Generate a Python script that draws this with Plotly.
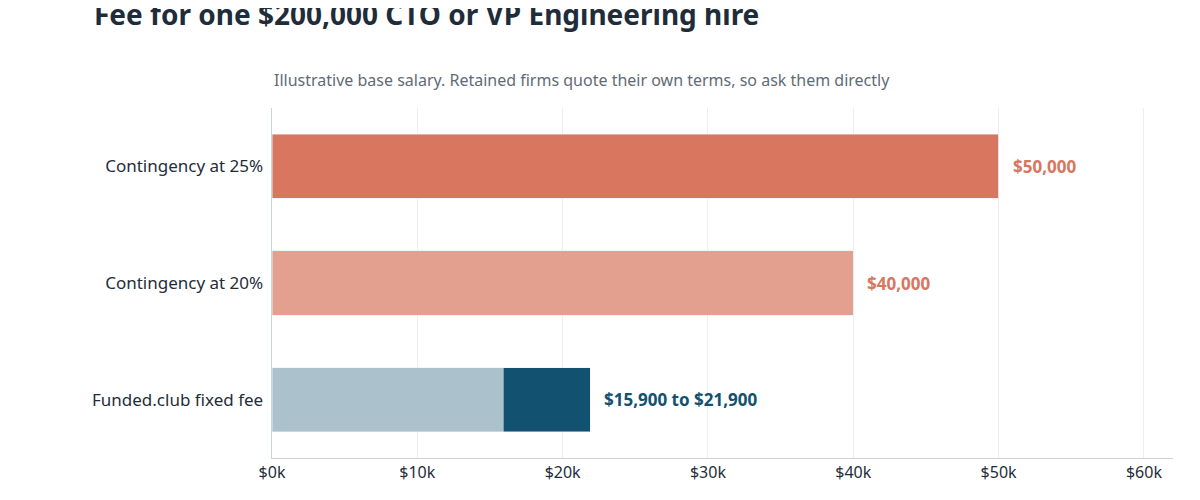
import plotly.graph_objects as go

categories = ["Funded.club fixed fee", "Contingency at 20%", "Contingency at 25%"]
base_values = [15900, 40000, 50000]
extra_values = [6000, 0, 0]
labels = ["$15,900 to $21,900", "$40,000", "$50,000"]
base_colors = ["#abc2cc", "#e3a08f", "#d9765f"]
label_colors = ["#12516f", "#d9765f", "#d9765f"]
tick_vals = [0, 10000, 20000, 30000, 40000, 50000, 60000]
tick_text = ["$0k", "$10k", "$20k", "$30k", "$40k", "$50k", "$60k"]

fig = go.Figure()
fig.add_bar(y=categories, x=base_values, orientation="h", marker_color=base_colors, width=0.55, hoverinfo="skip")
fig.add_bar(y=categories, x=extra_values, orientation="h", marker_color="#12516f", width=0.55, hoverinfo="skip")

for c, b, e, t, col in zip(categories, base_values, extra_values, labels, label_colors):
    fig.add_annotation(x=b + e, y=c, text="<b>" + t + "</b>", showarrow=False, xanchor="left", xshift=12,
                       font=dict(size=17, color=col))

fig.add_annotation(xref="paper", yref="paper", x=-0.2, y=1.27, xanchor="left", yanchor="middle",
                   text="<b>Fee for one $200,000 CTO or VP Engineering hire</b>", showarrow=False,
                   font=dict(size=28, color="#1f2d3a"))
fig.add_annotation(xref="paper", yref="paper", x=0, y=1.08, xanchor="left", yanchor="middle",
                   text="Illustrative base salary. Retained firms quote their own terms, so ask them directly",
                   showarrow=False, font=dict(size=16, color="#5f6b76"))

fig.update_layout(
    barmode="stack", showlegend=False, width=1200, height=500,
    margin=dict(l=264, r=35, t=100, b=50),
    plot_bgcolor="white", paper_bgcolor="white",
    font=dict(family="Noto Sans, sans-serif", color="#1f2d3a"),
    xaxis=dict(range=[0, 62000], tickvals=tick_vals, ticktext=tick_text, showgrid=True,
               gridcolor="#eeeeee", zeroline=False, showline=True, linecolor="#c8d3db",
               tickfont=dict(size=16, color="#1f2d3a")),
    yaxis=dict(showline=True, linecolor="#c8d3db", tickfont=dict(size=17, color="#1f2d3a"),
               ticksuffix=" ", showgrid=False),
)
fig.write_html("out.html")
